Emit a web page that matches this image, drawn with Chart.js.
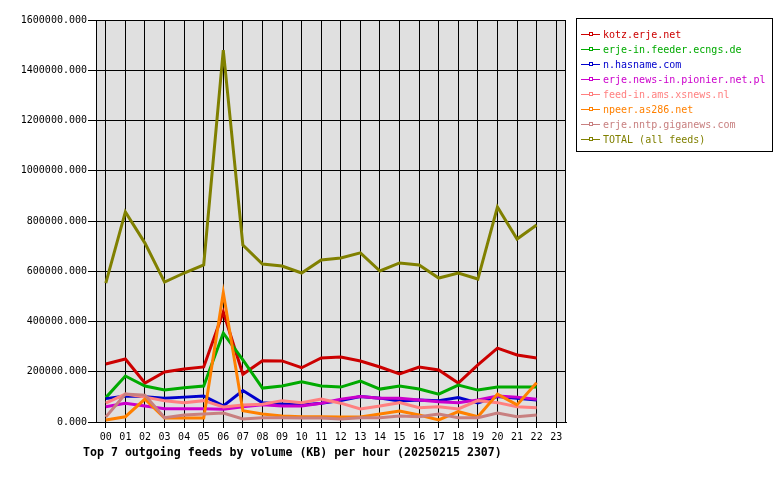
<!DOCTYPE html>
<html>
<head>
<meta charset="utf-8">
<script src="https://cdn.jsdelivr.net/npm/chart.js@4/dist/chart.umd.min.js"></script>
<style>
  body { margin: 0; background: #fff; }
  #wrap { position: relative; width: 780px; height: 480px; }
  #chart { position: absolute; left: 0; top: 0; }
  #legend {
    position: absolute; left: 576px; top: 18px; width: 195px; height: 132px;
    border: 1px solid #000; font: 10px "DejaVu Sans Mono", monospace;
  }
  #legend .row { position: absolute; left: 4px; height: 15px; line-height: 15px; white-space: nowrap; }
  #legend .sym { position: absolute; left: 0; top: 7px; width: 19px; height: 1px; }
  #legend .box { position: absolute; left: 8px; top: -2px; width: 2px; height: 2px; border: 1px solid; background: #fff; }
  #legend .txt { position: absolute; left: 22px; top: 0; }
  #title {
    position: absolute; left: 83px; top: 445px;
    font: bold 11.6px "DejaVu Sans Mono", monospace; color: #000; white-space: nowrap;
  }
</style>
</head>
<body>
<div id="wrap">
  <canvas id="chart" width="780" height="480"></canvas>
  <div id="legend"></div>
  <div id="title">Top 7 outgoing feeds by volume (KB) per hour (20250215 2307)</div>
</div>
<script>
// hours on the x axis
var hours = ['00','01','02','03','04','05','06','07','08','09','10','11',
             '12','13','14','15','16','17','18','19','20','21','22','23'];

var feedNames = ['kotz.erje.net', 'erje-in.feeder.ecngs.de', 'n.hasname.com',
                 'erje.news-in.pionier.net.pl', 'feed-in.ams.xsnews.nl',
                 'npeer.as286.net', 'erje.nntp.giganews.com', 'TOTAL (all feeds)'];
var feedColors = ['#cc0000', '#00aa00', '#0000cc', '#cc00cc', '#ff8080', '#ff8000', '#c88080', '#808000'];

// KB per hour
var kotz     = [231000, 251000, 155000, 199000, 211000, 219000, 438000, 190000, 244000, 243000, 216000, 255000,
                259000, 243000, 219000, 191000, 219000, 207000, 155000, 227000, 294000, 267000, 255000];
var ecngs    = [97000, 183000, 143000, 127000, 136000, 143000, 354000, 247000, 135000, 143000, 160000, 143000,
                139000, 163000, 131000, 143000, 131000, 111000, 147000, 127000, 139000, 139000, 139000];
var hasname  = [93000, 103000, 101000, 95000, 99000, 103000, 64000, 125000, 77000, 72000, 68000, 75000,
                85000, 101000, 95000, 84000, 88000, 85000, 97000, 76000, 101000, 95000, 88000];
var pionier  = [61000, 75000, 64000, 53000, 53000, 53000, 51000, 61000, 69000, 64000, 64000, 75000,
                91000, 101000, 95000, 95000, 88000, 81000, 77000, 88000, 103000, 99000, 91000];
var xsnews   = [75000, 111000, 99000, 85000, 77000, 85000, 60000, 68000, 71000, 85000, 77000, 91000,
                75000, 52000, 64000, 77000, 57000, 61000, 52000, 85000, 77000, 61000, 57000];
var npeer    = [8000, 21000, 91000, 16000, 16000, 16000, 515000, 45000, 32000, 24000, 21000, 21000,
                20000, 20000, 32000, 44000, 28000, 8000, 41000, 21000, 111000, 68000, 156000];
var giganews = [20000, 111000, 107000, 17000, 28000, 32000, 36000, 12000, 17000, 17000, 16000, 16000,
                12000, 17000, 17000, 24000, 21000, 32000, 17000, 17000, 36000, 21000, 28000];
var total    = [553000, 836000, 712000, 557000, 593000, 625000, 1480000, 704000, 629000, 621000, 593000, 645000,
                653000, 673000, 601000, 633000, 625000, 573000, 593000, 569000, 856000, 728000, 784000];

var series = [kotz, ecngs, hasname, pionier, xsnews, npeer, giganews, total];

var datasets = series.map(function(values, i) {
    return {
        label: feedNames[i],
        data: values,
        borderColor: feedColors[i],
        backgroundColor: feedColors[i],
        borderWidth: 3,
        pointRadius: 0,
        fill: false,
        tension: 0,
        order: series.length - i // later feeds on top
    };
});

// grey plot area with a black frame
var plotFrame = {
    id: 'plotFrame',
    beforeDraw: function(chart) {
        var a = chart.chartArea, c = chart.ctx;
        c.save();
        c.fillStyle = '#e0e0e0';
        c.fillRect(a.left, a.top, a.right - a.left, a.bottom - a.top);
        c.restore();
    },
    afterDraw: function(chart) {
        var a = chart.chartArea, c = chart.ctx;
        c.save();
        c.strokeStyle = '#000';
        c.lineWidth = 1;
        c.strokeRect(a.left + 0.5, a.top + 0.5, a.right - a.left - 1, a.bottom - a.top);
        c.restore();
    }
};

var ctx = document.getElementById('chart').getContext('2d');
var feedChart = new Chart(ctx, {
    type: 'line',
    data: {
        labels: hours,
        datasets: datasets,
    },
    options: {
        responsive: false,
        animation: false,
        layout: { padding: { top: 20, right: 214, bottom: 36, left: 0 } },
        plugins: {
            legend: { display: false },
            tooltip: { enabled: false },
        },
        scales: {
            x: {
                offset: true,
                grid: { color: '#000', tickLength: 6, drawOnChartArea: true },
                border: { color: '#000' },
                ticks: {
                    color: '#000', padding: 3, autoSkip: false, maxRotation: 0,
                    font: { family: 'DejaVu Sans Mono', size: 10 },
                },
                afterFit: function(scale) { scale.height = 22; },
            },
            y: {
                min: 0,
                max: 1600000,
                grid: { color: '#000', tickLength: 8 },
                border: { color: '#000' },
                ticks: {
                    stepSize: 200000,
                    color: '#000', padding: 1,
                    font: { family: 'DejaVu Sans Mono', size: 10 },
                    callback: function(value) {
                        return value.toFixed(3);
                    },
                },
                afterFit: function(scale) { scale.width = 96; },
            },
        },
    },
    plugins: [plotFrame],
});

// legend box on the right
var legend = document.getElementById('legend');
feedNames.forEach(function(name, i) {
    var row = document.createElement('div');
    row.className = 'row';
    row.style.top = (8 + i * 15) + 'px';
    row.innerHTML = '<span class="sym" style="background:' + feedColors[i] + '">' +
        '<span class="box" style="border-color:' + feedColors[i] + '"></span></span>' +
        '<span class="txt" style="color:' + feedColors[i] + '">' + name + '</span>';
    legend.appendChild(row);
});
</script>
</body>
</html>
